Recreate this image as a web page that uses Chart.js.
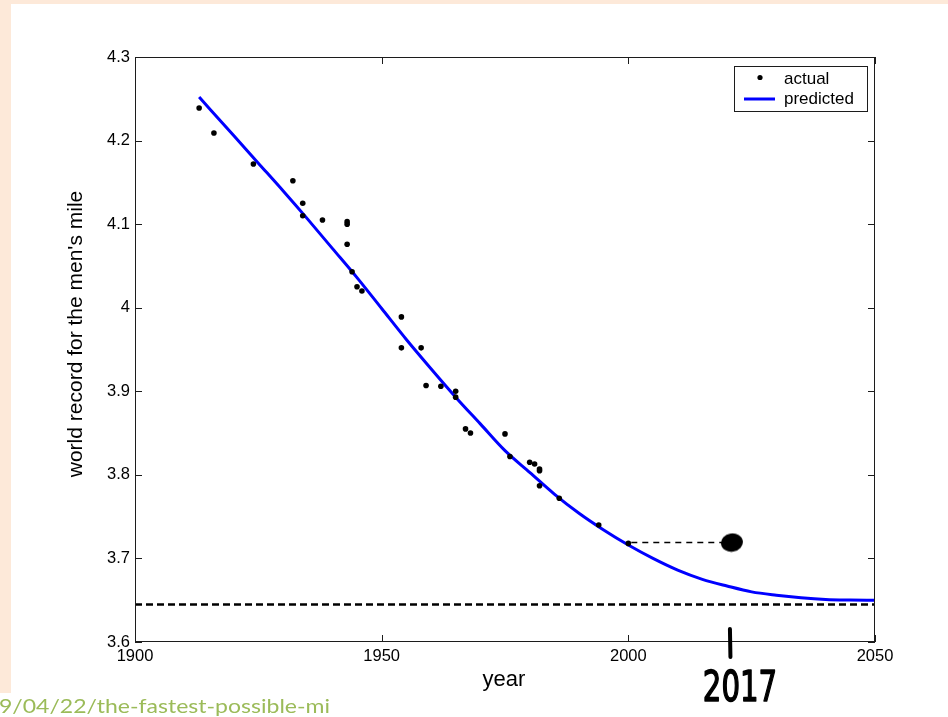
<!DOCTYPE html>
<html>
<head>
<meta charset="utf-8">
<script src="https://cdn.jsdelivr.net/npm/chart.js@4.4.1/dist/chart.umd.min.js"></script>
<style>
  html, body { margin: 0; padding: 0; background: #fff; width: 948px; height: 717px; overflow: hidden; }
  .band { position: absolute; background: #fde9d9; }
  #c { position: absolute; left: 0; top: 0; }
</style>
</head>
<body>
<div class="band" style="left:0;top:0;width:948px;height:4px"></div>
<div class="band" style="left:0;top:0;width:11px;height:693px"></div>
<canvas id="c" width="948" height="717"></canvas>
<script>
// Men's mile world records (minutes) by year
const recordYears = [1913, 1916, 1924, 1932, 1934, 1934, 1938, 1943, 1943, 1943, 1944, 1945, 1946,
                     1954, 1954, 1958, 1959, 1962, 1965, 1965, 1967, 1968, 1975, 1976, 1980, 1981,
                     1982, 1982, 1982, 1986, 1994, 2000];
const recordTimes = [4.239, 4.209, 4.172, 4.152, 4.125, 4.110, 4.105, 4.103, 4.100, 4.076, 4.043, 4.025, 4.020,
                     3.989, 3.952, 3.952, 3.907, 3.906, 3.900, 3.893, 3.855, 3.850, 3.849, 3.822, 3.815, 3.813,
                     3.807, 3.805, 3.787, 3.772, 3.740, 3.718];

// Fitted model curve
const fitYears = [1913, 1920, 1925, 1930, 1935, 1940, 1945, 1950, 1955, 1960, 1965, 1970, 1975, 1980,
                  1985, 1990, 1995, 2000, 2005, 2010, 2015, 2020, 2025, 2030, 2035, 2040, 2045, 2050];
const fitTimes = [4.252, 4.206, 4.173, 4.140, 4.106, 4.071, 4.036, 3.999, 3.962, 3.927, 3.893, 3.861, 3.829, 3.803,
                  3.777, 3.754, 3.734, 3.716, 3.700, 3.686, 3.675, 3.667, 3.660, 3.656, 3.653, 3.651, 3.6503, 3.650];

// Limiting time of the model
const limitYears = [1900, 2050];
const limitTime = 3.645;

// Hand-drawn note: record level carried forward to a marked year
const noteLineYears = [2000.6, 2019];
const noteYear = 2021;
const noteTime = 3.719;
const noteLabel = '2017';

// Axes
const xTicks = [1900, 1950, 2000, 2050];
const xTickLabels = ['1900', '1950', '2000', '2050'];
const yTicks = [3.6, 3.7, 3.8, 3.9, 4.0, 4.1, 4.2, 4.3];
const yTickLabels = ['3.6', '3.7', '3.8', '3.9', '4', '4.1', '4.2', '4.3'];
const xTitle = 'year';
const yTitle = "world record for the men's mile";
const legendLabels = ['actual', 'predicted'];
const sourceText = '9/04/22/the-fastest-possible-mi';

const FONT = '"Liberation Sans", Arial, sans-serif';

const pts = (xs, ys) => xs.map((x, i) => ({ x, y: Array.isArray(ys) ? ys[i] : ys }));

// Slightly flattened ink blot used as the note marker
const blot = document.createElement('canvas');
blot.width = 24; blot.height = 20;
(() => {
  const b = blot.getContext('2d');
  b.fillStyle = '#000';
  b.beginPath();
  b.ellipse(12, 10, 11, 9.2, -0.15, 0, Math.PI * 2);
  b.fill();
})();

const decorations = {
  id: 'decorations',
  afterDatasetsDraw(chart) {
    const { ctx, chartArea: a, scales: { x, y } } = chart;
    ctx.save();
    ctx.strokeStyle = '#1c1c1c';
    ctx.lineWidth = 1;
    ctx.strokeRect(a.left + 0.5, a.top + 0.5, a.right - a.left - 1, a.bottom - a.top - 1);
    const tl = 7;
    ctx.beginPath();
    xTicks.forEach(v => {
      const px = Math.round(x.getPixelForValue(v)) + 0.5;
      ctx.moveTo(px, a.bottom); ctx.lineTo(px, a.bottom - tl);
      ctx.moveTo(px, a.top); ctx.lineTo(px, a.top + tl);
    });
    yTicks.forEach(v => {
      const py = Math.round(y.getPixelForValue(v)) + 0.5;
      ctx.moveTo(a.left, py); ctx.lineTo(a.left + tl, py);
      ctx.moveTo(a.right, py); ctx.lineTo(a.right - tl, py);
    });
    ctx.stroke();
    ctx.restore();
  },
  afterDraw(chart) {
    const { ctx, scales: { x } } = chart;
    ctx.save();

    // Legend
    const lx = 734, ly = 66, lw = 134, lh = 46;
    ctx.fillStyle = '#fff';
    ctx.fillRect(lx, ly, lw, lh);
    ctx.strokeStyle = '#1c1c1c';
    ctx.lineWidth = 1;
    ctx.strokeRect(lx + 0.5, ly + 0.5, lw - 1, lh - 1);
    ctx.fillStyle = '#000';
    ctx.beginPath();
    ctx.arc(760, 77.5, 2.6, 0, Math.PI * 2);
    ctx.fill();
    ctx.strokeStyle = '#0000ff';
    ctx.lineWidth = 3;
    ctx.beginPath();
    ctx.moveTo(744, 99); ctx.lineTo(775, 99);
    ctx.stroke();
    ctx.fillStyle = '#000';
    ctx.font = '17px ' + FONT;
    ctx.textAlign = 'left';
    ctx.textBaseline = 'alphabetic';
    ctx.fillText(legendLabels[0], 784, 84);
    ctx.fillText(legendLabels[1], 784, 104);

    // Axis titles
    ctx.font = '22px ' + FONT;
    ctx.textAlign = 'center';
    ctx.fillText(xTitle, 504, 686);
    ctx.save();
    ctx.translate(76, 334);
    ctx.rotate(-Math.PI / 2);
    ctx.font = '21px ' + FONT;
    ctx.textBaseline = 'middle';
    ctx.fillText(yTitle, 0, 0);
    ctx.restore();

    // Hand-drawn year marker below the axis
    const mx = x.getPixelForValue(noteYear) - 2;
    ctx.strokeStyle = '#000';
    ctx.lineWidth = 4;
    ctx.lineCap = 'round';
    ctx.beginPath();
    ctx.moveTo(mx, 629); ctx.lineTo(mx + 0.5, 657);
    ctx.stroke();
    ctx.save();
    ctx.translate(740, 701);
    ctx.scale(0.68, 1);
    ctx.font = '43px "DejaVu Sans", sans-serif';
    ctx.textAlign = 'center';
    ctx.fillStyle = '#000';
    ctx.strokeStyle = '#000';
    ctx.lineWidth = 1.6;
    ctx.lineJoin = 'round';
    ctx.fillText(noteLabel, 0, 0);
    ctx.strokeText(noteLabel, 0, 0);
    ctx.restore();

    // Source link text
    ctx.save();
    ctx.font = '20px Lato, "Open Sans", sans-serif';
    const w = ctx.measureText(sourceText).width;
    ctx.translate(-1, 713);
    ctx.scale(331 / w, 1);
    ctx.fillStyle = '#9bbb59';
    ctx.textAlign = 'left';
    ctx.fillText(sourceText, 0, 0);
    ctx.restore();

    ctx.restore();
  }
};

new Chart(document.getElementById('c'), {
  type: 'scatter',
  data: {
    datasets: [
      {
        label: legendLabels[0],
        data: pts(recordYears, recordTimes),
        backgroundColor: '#000',
        borderWidth: 0,
        pointRadius: 2.8,
        showLine: false,
        order: 0
      },
      {
        label: 'note-dot',
        data: [{ x: noteYear, y: noteTime }],
        pointStyle: blot,
        pointRadius: 11,
        showLine: false,
        order: 1
      },
      {
        label: legendLabels[1],
        data: pts(fitYears, fitTimes),
        borderColor: '#0000ff',
        borderWidth: 3,
        pointRadius: 0,
        showLine: true,
        cubicInterpolationMode: 'monotone',
        order: 2
      },
      {
        label: 'note-line',
        data: pts(noteLineYears, noteTime),
        borderColor: '#000',
        borderWidth: 1.5,
        borderDash: [6, 5],
        pointRadius: 0,
        showLine: true,
        order: 3
      },
      {
        label: 'limit',
        data: pts(limitYears, limitTime),
        borderColor: '#000',
        borderWidth: 2.5,
        borderDash: [7, 4],
        pointRadius: 0,
        showLine: true,
        order: 4
      }
    ]
  },
  options: {
    responsive: false,
    animation: false,
    devicePixelRatio: 1,
    events: [],
    layout: { padding: { left: 0, top: 57, right: 73, bottom: 0 } },
    plugins: { legend: { display: false }, tooltip: { enabled: false } },
    scales: {
      x: {
        type: 'linear',
        min: 1900, max: 2050,
        grid: { display: false, drawTicks: false, tickLength: 0 },
        border: { display: false },
        afterBuildTicks: s => { s.ticks = xTicks.map(v => ({ value: v })); },
        afterFit: s => { s.height = 75; },
        ticks: {
          autoSkip: false,
          maxRotation: 0,
          padding: 5,
          color: '#000',
          font: { family: FONT, size: 16.5 },
          callback: (v, i) => xTickLabels[i]
        }
      },
      y: {
        type: 'linear',
        min: 3.6, max: 4.3,
        grid: { display: false, drawTicks: false, tickLength: 0 },
        border: { display: false },
        afterBuildTicks: s => { s.ticks = yTicks.map(v => ({ value: v })); },
        afterFit: s => { s.width = 135; },
        ticks: {
          autoSkip: false,
          padding: 5,
          color: '#000',
          font: { family: FONT, size: 16.5 },
          callback: (v, i) => yTickLabels[i]
        }
      }
    }
  },
  plugins: [decorations]
});
</script>
</body>
</html>
